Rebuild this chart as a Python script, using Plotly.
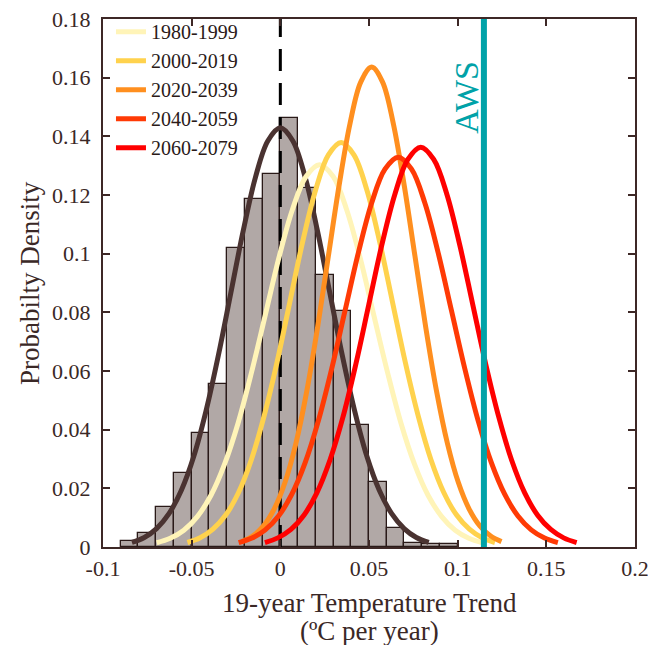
import plotly.graph_objects as go

# ---------------- data ----------------
# histogram (probability per 0.01 bin), bin left edges
bin_left = [-0.09, -0.08, -0.07, -0.06, -0.05, -0.04, -0.03, -0.02, -0.01, 0.00,
            0.01, 0.02, 0.03, 0.04, 0.05, 0.06, 0.07, 0.08, 0.09]
bin_prob = [0.0020, 0.0047, 0.0138, 0.0253, 0.0390, 0.0557, 0.1018, 0.1185, 0.1270, 0.1464,
            0.1225, 0.0927, 0.0805, 0.0416, 0.0220, 0.0066, 0.0014, 0.0009, 0.0009]
bin_width = 0.01

# fitted curves, points
hist_fit_x = [-0.0837, -0.0767, -0.0698, -0.0628, -0.0558, -0.0488, -0.0419, -0.0349,
              -0.0279, -0.0209, -0.0140, -0.0070, 0.0, 0.0070, 0.0140, 0.0209, 0.0279,
              0.0349, 0.0419, 0.0488, 0.0558, 0.0628, 0.0698, 0.0767, 0.0837]
hist_fit_y = [0.00159, 0.00326, 0.00628, 0.01137, 0.01934, 0.03091, 0.04639, 0.06542,
              0.08667, 0.10787, 0.12611, 0.13850, 0.14290, 0.13850, 0.12611, 0.10787,
              0.08667, 0.06542, 0.04639, 0.03091, 0.01934, 0.01137, 0.00628, 0.00326, 0.00159]

p1980_x = [-0.0697, -0.0621, -0.0544, -0.0468, -0.0391, -0.0315, -0.0238, -0.0162,
           -0.0085, -0.0009, 0.0068, 0.0145, 0.0221, 0.0298, 0.0374, 0.0451, 0.0527,
           0.0604, 0.0680, 0.0757, 0.0833, 0.0910, 0.0986, 0.1063, 0.1139]
p1980_y = [0.00145, 0.00297, 0.00573, 0.01037, 0.01764, 0.02818, 0.04230, 0.05966,
           0.07903, 0.09836, 0.11499, 0.12629, 0.13030, 0.12629, 0.11499, 0.09836,
           0.07903, 0.05966, 0.04230, 0.02818, 0.01764, 0.01037, 0.00573, 0.00297, 0.00145]

p2000_x = [-0.0524, -0.0452, -0.0380, -0.0307, -0.0235, -0.0163, -0.0091, -0.0018,
           0.0054, 0.0126, 0.0199, 0.0271, 0.0343, 0.0415, 0.0488, 0.0560, 0.0632,
           0.0704, 0.0777, 0.0849, 0.0921, 0.0993, 0.1066, 0.1138, 0.1210]
p2000_y = [0.00153, 0.00314, 0.00606, 0.01097, 0.01866, 0.02982, 0.04477, 0.06314,
           0.08364, 0.10409, 0.12170, 0.13366, 0.13790, 0.13366, 0.12170, 0.10409,
           0.08364, 0.06314, 0.04477, 0.02982, 0.01866, 0.01097, 0.00606, 0.00314, 0.00153]

p2020_x = [-0.0217, -0.0156, -0.0095, -0.0034, 0.0027, 0.0088, 0.0149, 0.0210,
           0.0271, 0.0332, 0.0393, 0.0454, 0.0515, 0.0576, 0.0637, 0.0698, 0.0759,
           0.0820, 0.0881, 0.0942, 0.1003, 0.1064, 0.1125, 0.1186, 0.1247]
p2020_y = [0.00182, 0.00373, 0.00719, 0.01302, 0.02214, 0.03538, 0.05311, 0.07490,
           0.09923, 0.12349, 0.14438, 0.15857, 0.16360, 0.15857, 0.14438, 0.12349,
           0.09923, 0.07490, 0.05311, 0.03538, 0.02214, 0.01302, 0.00719, 0.00373, 0.00182]

p2040_x = [-0.0235, -0.0160, -0.0085, -0.0010, 0.0065, 0.0140, 0.0215, 0.0290,
           0.0365, 0.0440, 0.0515, 0.0590, 0.0665, 0.0740, 0.0815, 0.0890, 0.0965,
           0.1040, 0.1115, 0.1190, 0.1265, 0.1340, 0.1415, 0.1490, 0.1565]
p2040_y = [0.00148, 0.00303, 0.00584, 0.01057, 0.01799, 0.02874, 0.04315, 0.06085,
           0.08061, 0.10032, 0.11728, 0.12881, 0.13290, 0.12881, 0.11728, 0.10032,
           0.08061, 0.06085, 0.04315, 0.02874, 0.01799, 0.01057, 0.00584, 0.00303, 0.00148]

p2060_x = [-0.0087, -0.0014, 0.0060, 0.0133, 0.0206, 0.0279, 0.0353, 0.0426,
           0.0499, 0.0572, 0.0646, 0.0719, 0.0792, 0.0865, 0.0939, 0.1012, 0.1085,
           0.1158, 0.1232, 0.1305, 0.1378, 0.1451, 0.1525, 0.1598, 0.1671]
p2060_y = [0.00151, 0.00311, 0.00599, 0.01084, 0.01845, 0.02948, 0.04425, 0.06240,
           0.08267, 0.10289, 0.12029, 0.13211, 0.13630, 0.13211, 0.12029, 0.10289,
           0.08267, 0.06240, 0.04425, 0.02948, 0.01845, 0.01084, 0.00599, 0.00311, 0.00151]

period_names = ["1980-1999", "2000-2019", "2020-2039", "2040-2059", "2060-2079"]
period_colors = ["#FFF4B8", "#FFD24D", "#FF8F1F", "#FF3A05", "#FF0000"]

aws_value = 0.1148
zero_line = 0.0

x_tickvals = [-0.1, -0.05, 0, 0.05, 0.1, 0.15, 0.2]
x_ticktext = ["-0.1", "-0.05", "0", "0.05", "0.1", "0.15", "0.2"]
y_tickvals = [0, 0.02, 0.04, 0.06, 0.08, 0.1, 0.12, 0.14, 0.16, 0.18]
y_ticktext = ["0", "0.02", "0.04", "0.06", "0.08", "0.1", "0.12", "0.14", "0.16", "0.18"]

x_title_lines = ["19-year Temperature Trend", "(ºC per year)"]
y_title = "Probabilty Density"

# ---------------- figure ----------------
FONT = "Liberation Serif"
AXC = "#3D2826"
TXT = "#3A2826"

fig = go.Figure()

bin_centers = [b + bin_width / 2 for b in bin_left]
fig.add_trace(go.Bar(
    x=bin_centers, y=bin_prob, width=bin_width,
    marker=dict(color="#B1A8A6", line=dict(color="#2A1A18", width=1.3)),
    showlegend=False, hoverinfo="skip",
))

# dashed zero line
fig.add_trace(go.Scatter(
    x=[zero_line, zero_line], y=[0, 0.18], mode="lines",
    line=dict(color="#000000", width=3, dash="22px,12px"),
    showlegend=False, hoverinfo="skip",
))

fig.add_trace(go.Scatter(
    x=hist_fit_x, y=hist_fit_y, mode="lines",
    line=dict(color="#4A3331", width=5, shape="spline"),
    showlegend=False,
))

curves = [(p1980_x, p1980_y), (p2000_x, p2000_y), (p2020_x, p2020_y),
          (p2040_x, p2040_y), (p2060_x, p2060_y)]
for (cx, cy), name, col in zip(curves, period_names, period_colors):
    fig.add_trace(go.Scatter(
        x=cx, y=cy, mode="lines", name=name,
        line=dict(color=col, width=5, shape="spline"),
    ))

# AWS line
fig.add_trace(go.Scatter(
    x=[aws_value, aws_value], y=[0, 0.18], mode="lines",
    line=dict(color="#00A2A8", width=6),
    showlegend=False, hoverinfo="skip",
))

fig.add_annotation(
    x=0.1048, y=0.851, xref="x", yref="paper",
    text="AWS", textangle=-90, showarrow=False,
    font=dict(family=FONT, size=34, color="#00A2A8"),
    xanchor="center", yanchor="middle",
)

# x-axis title (two lines)
for line_text, shift in zip(x_title_lines, [-56, -84]):
    fig.add_annotation(
        x=0.5, y=0, xref="paper", yref="paper",
        text=line_text, showarrow=False,
        font=dict(family=FONT, size=27, color=TXT),
        xanchor="center", yanchor="middle", yshift=shift,
    )

# y-axis title
fig.add_annotation(
    x=0, y=0.5, xref="paper", yref="paper",
    text=y_title, textangle=-90, showarrow=False,
    font=dict(family=FONT, size=27, color=TXT),
    xanchor="center", yanchor="middle", xshift=-73,
)

fig.update_layout(
    width=648, height=645,
    margin=dict(l=103, r=13, t=15, b=98),
    paper_bgcolor="white", plot_bgcolor="white",
    font=dict(family=FONT, size=22, color=TXT),
    showlegend=True,
    legend=dict(
        x=0.015, y=1.013, xanchor="left", yanchor="top",
        bgcolor="rgba(0,0,0,0)", borderwidth=0,
        font=dict(family=FONT, size=20, color="#2A1A18"),
        itemwidth=30, tracegroupgap=0,
    ),
    bargap=0,
)

fig.update_xaxes(
    range=[-0.1, 0.2], tickvals=x_tickvals, ticktext=x_ticktext,
    showline=True, linecolor=AXC, linewidth=2, mirror="ticks",
    ticks="inside", ticklen=7, tickwidth=2, tickcolor=AXC,
    showgrid=False, zeroline=False, automargin=False,
    ticklabelstandoff=1, ticklabeloverflow="allow",
    tickfont=dict(family=FONT, size=22, color=TXT),
)
fig.update_yaxes(
    range=[0, 0.18], tickvals=y_tickvals, ticktext=y_ticktext,
    showline=True, linecolor=AXC, linewidth=2, mirror="ticks",
    ticks="inside", ticklen=7, tickwidth=2, tickcolor=AXC,
    showgrid=False, zeroline=False, automargin=False,
    ticklabelstandoff=6, ticklabeloverflow="allow",
    tickfont=dict(family=FONT, size=22, color=TXT),
)

# remove the browser's default 8px page margin so the figure fills the window
fig.write_html("out.html",
               config={"displayModeBar": False},
               post_script="document.body.style.margin='0';document.body.style.overflow='hidden';")
